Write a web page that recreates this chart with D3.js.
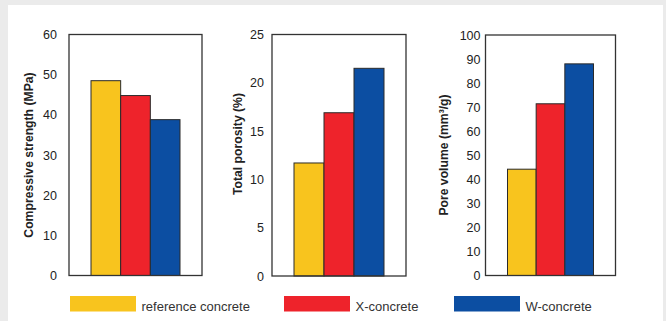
<!DOCTYPE html>
<html><head><meta charset="utf-8">
<script src="https://cdn.jsdelivr.net/npm/d3@7"></script>
<style>
html,body{margin:0;padding:0;background:#ebebeb;}
svg{display:block;font-family:"Liberation Sans",Arial,sans-serif;}
</style></head>
<body>
<svg id="c" width="666" height="321"></svg>
<script>
const categories = ["reference concrete", "X-concrete", "W-concrete"];
const colors = ["#F8C41E", "#EE232B", "#0C4EA2"];
const strength = [48.5, 44.8, 38.8];
const porosity = [11.7, 16.9, 21.5];
const poreVolume = [44.2, 71.4, 88.0];
const strengthTicks = [0, 10, 20, 30, 40, 50, 60];
const porosityTicks = [0, 5, 10, 15, 20, 25];
const poreTicks = [0, 10, 20, 30, 40, 50, 60, 70, 80, 90, 100];

const svg = d3.select("#c");
svg.append("rect").attr("x", 8).attr("y", 5).attr("width", 655).attr("height", 316).attr("fill", "#fff");

const panels = [
  {values: strength, ticks: strengthTicks, max: 60, x0: 69, x1: 202, y0: 34.5, y1: 275.5, labelGap: 12, title: "Compressive strength (MPa)", tx: 29, ty: 155},
  {values: porosity, ticks: porosityTicks, max: 25, x0: 272, x1: 406, y0: 34.5, y1: 276, labelGap: 8, title: "Total porosity (%)", tx: 238, ty: 144},
  {values: poreVolume, ticks: poreTicks, max: 100, x0: 485.5, x1: 615.5, y0: 35, y1: 275.5, labelGap: 5, title: "Pore volume (mm³/g)", tx: 444, ty: 155}
];

panels.forEach(p => {
  const g = svg.append("g");
  const x = d3.scaleBand().domain(categories).range([p.x0 + 22, p.x1 - 22]).paddingInner(0).paddingOuter(0);
  const y = d3.scaleLinear().domain([0, p.max]).range([p.y1, p.y0]);
  g.selectAll("rect.bar").data(p.values).join("rect")
    .attr("class", "bar")
    .attr("x", (d, i) => x(categories[i]))
    .attr("width", x.bandwidth())
    .attr("y", d => y(d))
    .attr("height", d => y(0) - y(d))
    .attr("fill", (d, i) => colors[i])
    .attr("stroke", "#2a2a2a").attr("stroke-width", 1);
  g.append("rect").attr("x", p.x0).attr("y", p.y0).attr("width", p.x1 - p.x0).attr("height", p.y1 - p.y0)
    .attr("fill", "none").attr("stroke", "#333").attr("stroke-width", 1.3);
  const ax = d3.axisLeft(y).tickValues(p.ticks).tickSize(0).tickPadding(p.labelGap);
  const a = g.append("g").attr("transform", `translate(${p.x0},0)`).call(ax);
  a.select(".domain").remove();
  a.selectAll("text").attr("font-size", 12.5).attr("fill", "#222").attr("font-family", "Liberation Sans, Arial, sans-serif");
  g.append("text").attr("transform", `translate(${p.tx},${p.ty}) rotate(-90)`)
    .attr("text-anchor", "middle").attr("dominant-baseline", "central")
    .attr("font-size", 12.2).attr("font-weight", "bold").attr("fill", "#222").text(p.title);
});

const legendX = [70, 284, 454];
const lg = svg.append("g");
categories.forEach((c, i) => {
  lg.append("rect").attr("x", legendX[i]).attr("y", 296).attr("width", 66).attr("height", 15.5).attr("fill", colors[i]);
  lg.append("text").attr("x", legendX[i] + 71.5).attr("y", 310.5).attr("font-size", 13).attr("fill", "#333").text(c);
});
</script>
</body></html>
